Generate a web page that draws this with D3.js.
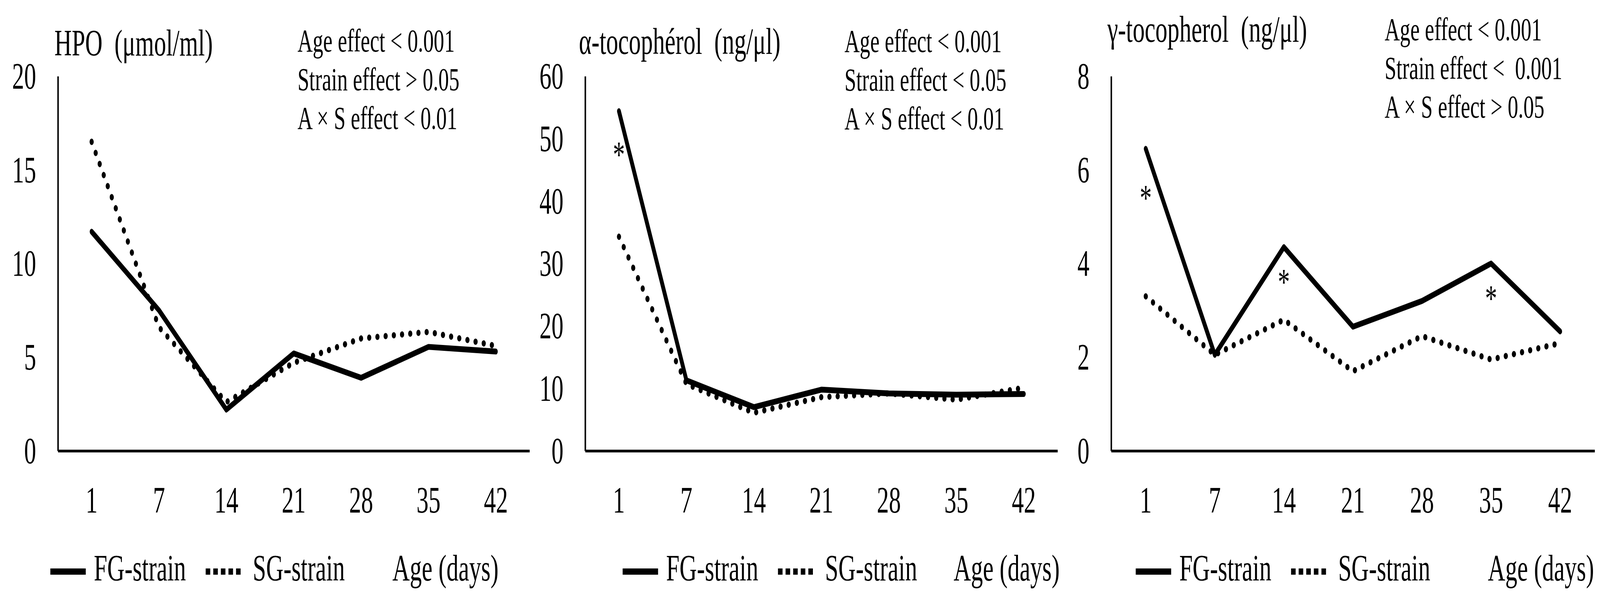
<!DOCTYPE html>
<html>
<head>
<meta charset="utf-8">
<script src="https://cdn.jsdelivr.net/npm/d3@7"></script>
<style>
  html, body { margin: 0; padding: 0; background: #fff; width: 100%; height: 100%; overflow: hidden; }
  #chart { width: 100%; height: 100%; }
  svg { display: block; }
  text { font-family: "Liberation Serif", "Times New Roman", serif; fill: #000; white-space: pre; }
</style>
</head>
<body>
<div id="chart"></div>
<script>
// data
const days = ["1", "7", "14", "21", "28", "35", "42"];

const hpoFG = [11.7, 7.5, 2.2, 5.2, 3.9, 5.55, 5.3];
const hpoSG = [16.5, 6.6, 2.6, 4.7, 6.0, 6.35, 5.6];
const alphaFG = [54.4, 11.3, 7.0, 9.8, 9.2, 9.0, 9.1];
const alphaSG = [34.3, 10.7, 6.1, 8.6, 9.2, 8.2, 10.1];
const gammaFG = [6.45, 2.05, 4.35, 2.65, 3.2, 4.0, 2.55];
const gammaSG = [3.3, 2.05, 2.8, 1.7, 2.45, 1.95, 2.3];

const hpoTicks = [0, 5, 10, 15, 20];
const alphaTicks = [0, 10, 20, 30, 40, 50, 60];
const gammaTicks = [0, 2, 4, 6, 8];

const titles = ["HPO  (μmol/ml)", "α-tocophérol  (ng/μl)", "γ-tocopherol  (ng/μl)"];
const stats = [
  ["Age effect < 0.001", "Strain effect > 0.05", "A × S effect < 0.01"],
  ["Age effect < 0.001", "Strain effect < 0.05", "A × S effect < 0.01"],
  ["Age effect < 0.001", "Strain effect <  0.001", "A × S effect > 0.05"]
];
// significance stars: [day index, value]
const stars = [[], [[0, 48.2]], [[0, 5.5], [2, 3.7], [5, 3.35]]];

const legendLabels = ["FG-strain", "SG-strain", "Age (days)"];

const panels = [
  { fg: hpoFG, sg: hpoSG, ticks: hpoTicks, max: 20 },
  { fg: alphaFG, sg: alphaSG, ticks: alphaTicks, max: 60 },
  { fg: gammaFG, sg: gammaSG, ticks: gammaTicks, max: 8 }
];

// layout of each panel
const layout = [
  { left: 229, right: 2093, titleX: 215, titleY: 142, statX: 1176, statY: 132, legX: 199, ageX: 1551 },
  { left: 2313, right: 4180, titleX: 2288, titleY: 138, statX: 3338, statY: 133, legX: 2461, ageX: 3769 },
  { left: 4392, right: 6303, titleX: 4377, titleY: 107, statX: 5473, statY: 103, legX: 4489, ageX: 5881 }
];

// drawing is laid out at the reference size and stretched to the window
const width = 6324, height = 1546;
const plotTop = 195, plotBottom = 1154;
const fs = 95;

const svg = d3.select("#chart")
  .append("svg")
  .attr("viewBox", `0 0 ${width} ${height}`)
  .attr("preserveAspectRatio", "none")
  .attr("width", "100%")
  .attr("height", "100%");

function label(g, x, y, txt, size, anchor) {
  return g.append("text")
    .attr("x", x)
    .attr("y", y)
    .attr("font-size", size)
    .attr("text-anchor", anchor || "start")
    .text(txt);
}

panels.forEach((p, k) => {
  const L = layout[k];
  const g = svg.append("g");

  const x = d3.scaleBand().domain(days).range([L.left, L.right]);
  const y = d3.scaleLinear().domain([0, p.max]).range([plotBottom, plotTop]);
  const cx = d => x(d) + x.bandwidth() / 2;

  // y axis
  const ya = g.append("g")
    .attr("transform", `translate(${L.left},0)`)
    .call(d3.axisLeft(y).tickValues(p.ticks).tickSize(0).tickSizeOuter(0).tickPadding(86));
  ya.select(".domain").attr("stroke", "#000").attr("stroke-width", 6);
  ya.selectAll(".tick text")
    .attr("font-size", fs)
    .attr("font-family", "Liberation Serif")
    .attr("fill", "#000")
    .attr("dy", "0.33em");

  // x axis
  const xa = g.append("g")
    .attr("transform", `translate(0,${plotBottom})`)
    .call(d3.axisBottom(x).tickSize(0).tickSizeOuter(0));
  xa.select(".domain").attr("stroke", "#000").attr("stroke-width", 7);
  xa.selectAll(".tick text")
    .attr("font-size", fs)
    .attr("font-family", "Liberation Serif")
    .attr("fill", "#000")
    .attr("y", 158)
    .attr("dy", 0);

  const line = d3.line()
    .x((d, i) => cx(days[i]))
    .y(d => y(d));

  g.append("path")
    .datum(p.sg)
    .attr("d", line)
    .attr("fill", "none")
    .attr("stroke", "#000")
    .attr("stroke-width", 16)
    .attr("stroke-linecap", "round")
    .attr("stroke-dasharray", "0.5 32");

  g.append("path")
    .datum(p.fg)
    .attr("d", line)
    .attr("fill", "none")
    .attr("stroke", "#000")
    .attr("stroke-width", 15)
    .attr("stroke-linejoin", "round")
    .attr("stroke-linecap", "round");

  stars[k].forEach(s => {
    label(g, cx(days[s[0]]), y(s[1]) + 44, "*", fs, "middle");
  });

  label(g, L.titleX, L.titleY, titles[k], fs);
  stats[k].forEach((t, j) => label(g, L.statX, L.statY + j * 99, t, 83));

  // legend row
  const ly = 1463, ty = 1486;
  g.append("line")
    .attr("x1", L.legX).attr("x2", L.legX + 140)
    .attr("y1", ly).attr("y2", ly)
    .attr("stroke", "#000").attr("stroke-width", 16);
  label(g, L.legX + 172, ty, legendLabels[0], fs);
  g.append("line")
    .attr("x1", L.legX + 614).attr("x2", L.legX + 754)
    .attr("y1", ly).attr("y2", ly)
    .attr("stroke", "#000").attr("stroke-width", 16)
    .attr("stroke-dasharray", "18 12");
  label(g, L.legX + 800, ty, legendLabels[1], fs);
  label(g, L.ageX, ty, legendLabels[2], fs);
});
</script>
</body>
</html>
